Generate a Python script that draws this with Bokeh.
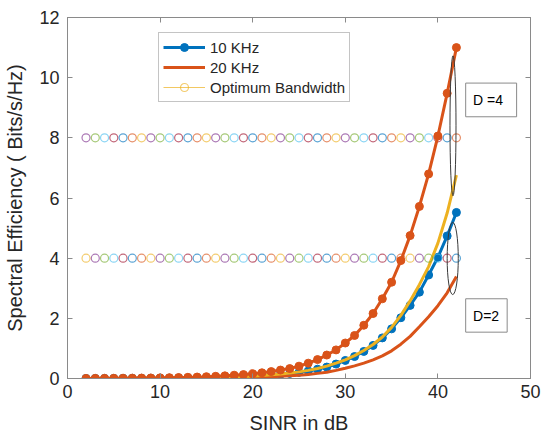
from bokeh.plotting import figure
from bokeh.models import LinearAxis, FixedTicker, Range1d, Legend, LegendItem
from bokeh.embed import file_html
from bokeh.resources import INLINE
from bokeh.core.properties import value

# ---------------- data ----------------
sinr_db = list(range(2, 43))

se_10khz = [0.002, 0.002, 0.003, 0.004, 0.005, 0.006, 0.007, 0.009, 0.011, 0.013,
            0.016, 0.020, 0.024, 0.030, 0.036, 0.044, 0.054, 0.066, 0.080, 0.095,
            0.115, 0.14, 0.17, 0.205, 0.25, 0.31, 0.38, 0.48, 0.60, 0.73,
            0.90, 1.10, 1.35, 1.65, 2.02, 2.43, 2.87, 3.44, 4.03, 4.74, 5.52]

se_20khz = [0.001, 0.001, 0.002, 0.002, 0.003, 0.003, 0.004, 0.005, 0.006, 0.007,
            0.008, 0.010, 0.012, 0.015, 0.018, 0.022, 0.026, 0.032, 0.040, 0.050,
            0.060, 0.075, 0.09, 0.11, 0.13, 0.17, 0.21, 0.27, 0.34, 0.42,
            0.51, 0.62, 0.75, 0.92, 1.14, 1.40, 1.72, 2.05, 2.42, 2.85, 3.39]

se_optimum = [0.002, 0.003, 0.003, 0.004, 0.005, 0.006, 0.008, 0.010, 0.012, 0.014,
              0.017, 0.021, 0.026, 0.032, 0.039, 0.047, 0.058, 0.070, 0.085, 0.10,
              0.125, 0.15, 0.18, 0.22, 0.27, 0.33, 0.41, 0.51, 0.62, 0.76,
              0.93, 1.13, 1.38, 1.70, 2.10, 2.58, 3.12, 3.72, 4.50, 5.50, 6.76]

se_upper = [0.004, 0.005, 0.006, 0.008, 0.010, 0.012, 0.015, 0.018, 0.022, 0.027,
            0.033, 0.040, 0.049, 0.060, 0.073, 0.089, 0.11, 0.13, 0.16, 0.19,
            0.23, 0.28, 0.33, 0.41, 0.51, 0.63, 0.78, 0.95, 1.18, 1.43,
            1.77, 2.16, 2.65, 3.20, 3.92, 4.75, 5.72, 6.80, 8.06, 9.48, 11.0]

circle_levels = [4, 8]          # D = 2 and D = 4 reference rows
x_ticks = [0, 10, 20, 30, 40, 50]
y_ticks = [0, 2, 4, 6, 8, 10, 12]
legend_labels = ["10 KHz", "20 KHz", "Optimum Bandwidth"]
note_labels = ["D =4", "D=2"]

# ---------------- style ----------------
FONT = "Liberation Sans"
C = ["#0072BD", "#D95319", "#EDB120", "#7E2F8E", "#77AC30", "#4DBEEE", "#A2142F"]
AX = "#8a8a8a"
TXT = "#262626"

p = figure(width=546, height=436, output_backend="svg", toolbar_location=None,
           x_range=Range1d(0, 50), y_range=Range1d(0, 12),
           min_border_left=67, min_border_right=16, min_border_top=17, min_border_bottom=58,
           x_axis_label="SINR in dB", y_axis_label="Spectral Efficiency ( Bits/s/Hz)")
p.background_fill_color = "white"
p.border_fill_color = "white"
p.outline_line_color = AX
p.xgrid.visible = False
p.ygrid.visible = False

for ax, ticks in ((p.xaxis[0], x_ticks), (p.yaxis[0], y_ticks)):
    ax.ticker = FixedTicker(ticks=ticks)
    ax.axis_line_color = AX
    ax.major_tick_line_color = AX
    ax.major_tick_in = 5
    ax.major_tick_out = 0
    ax.minor_tick_line_color = None
    ax.major_label_text_font = FONT
    ax.major_label_text_font_size = "18px"
    ax.major_label_text_color = TXT
    ax.axis_label_text_font = FONT
    ax.axis_label_text_font_size = "20px"
    ax.axis_label_text_font_style = "normal"
    ax.axis_label_text_color = TXT
p.xaxis[0].major_label_standoff = 6
p.xaxis[0].axis_label_standoff = 11
p.yaxis[0].major_label_standoff = 8
p.yaxis[0].axis_label_standoff = 10

# mirrored tick marks on the right and top (box on), without labels
for side, ticks in (("right", y_ticks), ("above", x_ticks)):
    ax = LinearAxis(ticker=FixedTicker(ticks=ticks))
    ax.axis_line_color = AX
    ax.major_tick_line_color = AX
    ax.major_tick_in = 5
    ax.major_tick_out = 0
    ax.minor_tick_line_color = None
    ax.major_label_text_color = None
    ax.major_label_text_font_size = "1px"
    ax.major_label_standoff = 0
    p.add_layout(ax, side)

# series 1: 10 KHz
r_b_line = p.line(sinr_db, se_10khz, line_color=C[0], line_width=3)
r_b_dots = p.scatter(sinr_db, se_10khz, marker="circle", size=8, fill_color=C[0], line_color=C[0])
# series 2: 20 KHz
r_o_line = p.line(sinr_db, se_20khz, line_color=C[1], line_width=3)
# series 3: optimum bandwidth (thin line used for the legend sits under the thick curve)
r_y_thin = p.line(sinr_db, se_optimum, line_color=C[2], line_width=1.2, line_alpha=0.7)
r_y_line = p.line(sinr_db, se_optimum, line_color=C[2], line_width=3)

# reference rows of circles (colour cycles like MATLAB); first point is the yellow one
cx, cy, cc = [], [], []
for level, shift in zip(circle_levels, (0, 1)):
    for x in sinr_db:
        cx.append(x)
        cy.append(level)
        cc.append(C[(x + shift) % 7])
r_circles = p.scatter(cx, cy, marker="circle", size=8, fill_color=None,
                      line_color=cc, line_width=1.2, line_alpha=0.65)

# upper series with markers (drawn last)
p.line(sinr_db, se_upper, line_color=C[1], line_width=3)
p.scatter(sinr_db, se_upper, marker="circle", size=8, fill_color=C[1], line_color=C[1])

# annotations: ellipses and boxes
p.ellipse(x=[41.63], y=[8.4], width=[0.65], height=[4.65], fill_color=None,
          line_color="#3a3a3a", line_width=1)
p.ellipse(x=[41.6], y=[3.99], width=[1.2], height=[2.4], fill_color=None,
          line_color="#3a3a3a", line_width=1)
p.quad(left=[43.0], right=[48.5], top=[9.82], bottom=[8.7], fill_color="white", line_color=AX, line_width=1)
p.quad(left=[43.0], right=[47.48], top=[2.65], bottom=[1.54], fill_color="white", line_color=AX, line_width=1)
p.text(x=[43.8, 43.8], y=[9.26, 2.09], text=note_labels, text_align="left", text_baseline="middle",
       text_font=value(FONT), text_font_size="14px", text_color="black")

legend = Legend(items=[LegendItem(label=legend_labels[0], renderers=[r_b_line, r_b_dots]),
                       LegendItem(label=legend_labels[1], renderers=[r_o_line]),
                       LegendItem(label=legend_labels[2], renderers=[r_y_thin, r_circles])],
                location=(91, 276))
legend.label_text_font = FONT
legend.label_text_font_size = "15px"
legend.label_text_color = TXT
legend.label_height = 20
legend.glyph_height = 20
legend.glyph_width = 42
legend.label_standoff = 5
legend.spacing = 0
legend.padding = 4
legend.margin = 0
legend.border_line_color = AX
legend.background_fill_alpha = 1
p.add_layout(legend)

open("out.html", "w").write(file_html(p, INLINE))
